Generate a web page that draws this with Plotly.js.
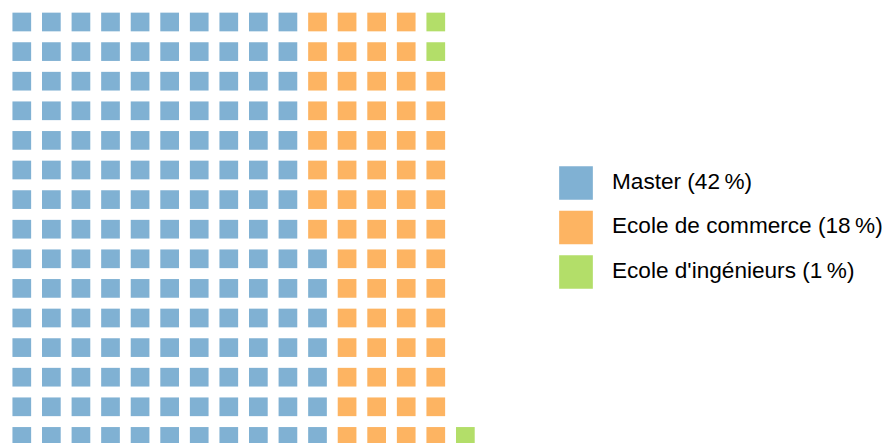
<!DOCTYPE html>
<html>
<head>
<meta charset="utf-8">
<script src="https://cdn.plot.ly/plotly-3.0.1.min.js"></script>
<style>html,body{margin:0;padding:0;background:#fff;}#chart{width:886px;height:443px;}</style>
</head>
<body>
<div id="chart"></div>
<script>
// Data
var categories = ['Master (42\u202F%)', 'Ecole de commerce (18\u202F%)', "Ecole d'ingénieurs (1\u202F%)"];
var percents = [42, 18, 1];
var squareCounts = [157, 66, 3];
var colors = ['#80b1d3', '#fdb462', '#b3de69'];
var nRows = 15;

// Waffle layout: fill column by column, bottom to top
var traces = [];
var cell = 0;
for (var c = 0; c < categories.length; c++) {
  var xs = [], ys = [];
  for (var k = 0; k < squareCounts[c]; k++) {
    xs.push(Math.floor(cell / nRows));
    ys.push(cell % nRows);
    cell++;
  }
  traces.push({
    type: 'scatter', mode: 'markers', x: xs, y: ys,
    marker: {symbol: 'square', size: 18.7, color: colors[c], line: {width: 0}},
    hoverinfo: 'skip', showlegend: false, xaxis: 'x', yaxis: 'y'
  });
}
// Custom legend
var legIdx = categories.map(function(_, i){ return i; });
traces.push({
  type: 'scatter', mode: 'markers', x: categories.map(function(){return 0;}), y: legIdx,
  marker: {symbol: 'square', size: 33.7, color: colors, line: {width: 0}},
  hoverinfo: 'skip', showlegend: false, xaxis: 'x2', yaxis: 'y2'
});
traces.push({
  type: 'scatter', mode: 'text', x: categories.map(function(){return 36;}), y: legIdx,
  text: categories, textposition: 'middle right',
  textfont: {family: 'Liberation Sans, Arial, sans-serif', size: 22.6, color: '#000'},
  hoverinfo: 'skip', showlegend: false, xaxis: 'x2', yaxis: 'y2'
});

var layout = {
  width: 886, height: 443,
  margin: {l: 0, r: 0, t: 0, b: 0},
  paper_bgcolor: '#fff', plot_bgcolor: '#fff',
  showlegend: false,
  xaxis: {visible: false, range: [-0.737, 29.225], domain: [0, 1], fixedrange: true},
  yaxis: {visible: false, range: [-0.223, 14.743], domain: [0, 1], fixedrange: true},
  xaxis2: {visible: false, range: [-576, 310], domain: [0, 1], anchor: 'y2', overlaying: 'x', fixedrange: true},
  yaxis2: {visible: false, range: [5.843, -4.112], domain: [0, 1], anchor: 'x2', overlaying: 'y', fixedrange: true}
};

Plotly.newPlot('chart', traces, layout, {displayModeBar: false, staticPlot: true});
</script>
</body>
</html>
